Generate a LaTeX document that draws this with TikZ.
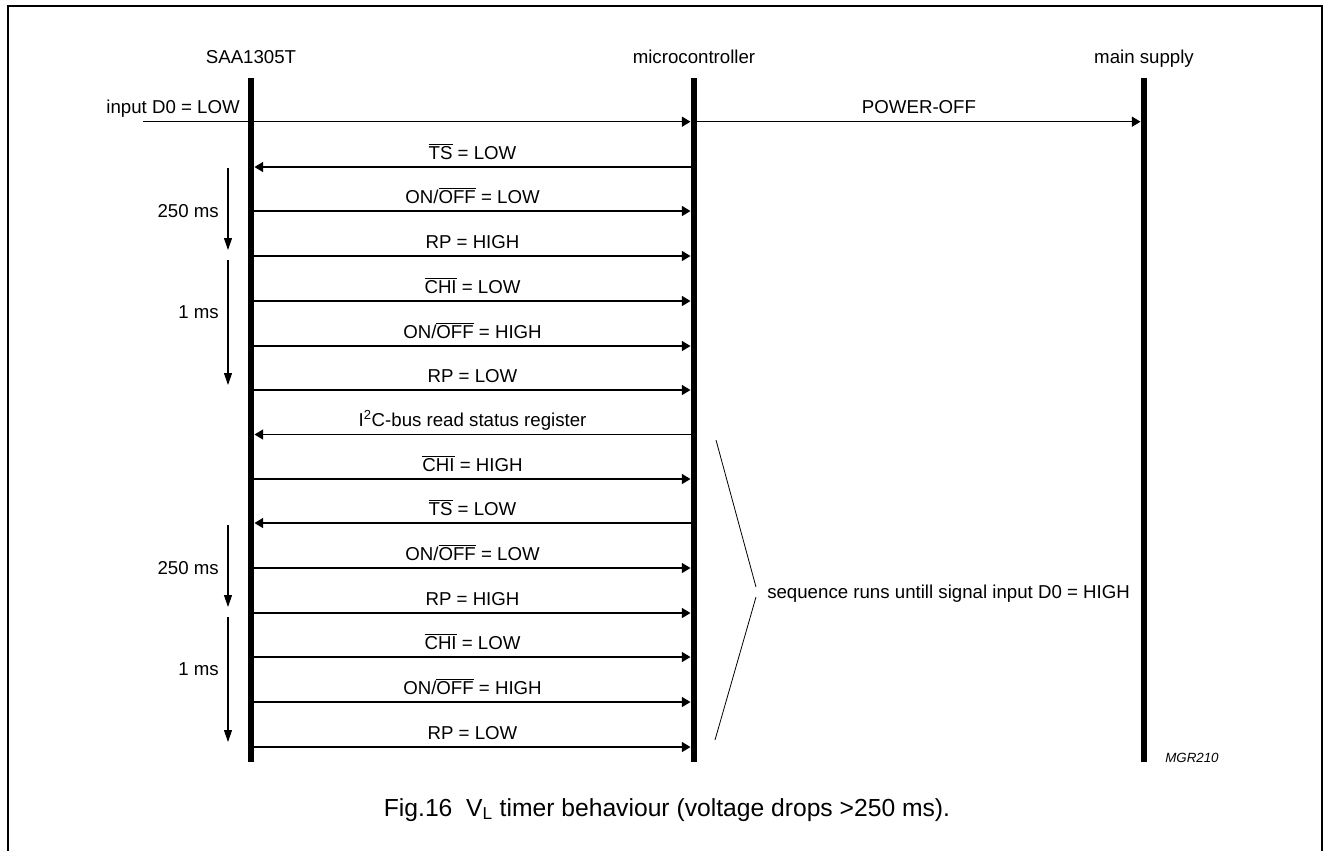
\documentclass[tikz,border=0pt]{standalone}
\usepackage{fontspec}
\setmainfont{Liberation Sans}
\usetikzlibrary{arrows.meta}

\newcommand{\ovl}[1]{\ensuremath{\overline{\mbox{#1}}}}
\newcommand{\lblfont}{\fontsize{14}{16}\selectfont}

\tikzset{
  lifeline/.style={line width=4.8pt},
  msg/.style={line width=1.05pt, -{Triangle[length=6.5pt,width=7.5pt]}, shorten >=2.6pt},
  lbl/.style={anchor=base, yshift=6pt, font=\lblfont, inner sep=0pt},
  hdr/.style={anchor=base, font=\lblfont, inner sep=0pt},
  tim/.style={line width=0.8pt, -{Triangle[length=9pt,width=6pt]}},
  timlbl/.style={anchor=base east, font=\lblfont, inner sep=0pt}
}

\begin{document}
\begin{tikzpicture}[x=0.75pt, y=-0.75pt]
\useasboundingbox (0,0) rectangle (1329,851);

%frame, open at the bottom
\draw[line width=1.2pt] (8,851)--(8,6)--(1322,6)--(1322,851);

%headers and lifelines
\node[hdr] (saa) at (251,63) {SAA1305T};
\node[hdr] (mc) at (694,63) {microcontroller};
\node[hdr] (sup) at (1144,63) {main supply};

\draw[lifeline] (251,78) -- (251,762);
\draw[lifeline] (694,78) -- (694,762);
\draw[lifeline] (1144,78) -- (1144,762);

%message points on the lifelines
\foreach \k/\y in {1/121.7,2/167,3/211,4/256,5/301,6/346,7/390,8/434.5,9/479,10/523,11/568,12/613,13/657,14/702,15/747}{
  \coordinate (s\k) at (251,\y);
  \coordinate (m\k) at (694,\y);
}
\coordinate (in) at (143,121.7);
\coordinate (p1) at (1144,121.7);

\node[timlbl] (d0) at (240,113) {input D0 = LOW};
\draw[msg] (in) -- (m1);
\draw[msg, shorten <=2.6pt] (m1) -- (p1) node[lbl, pos=0.5] {POWER-OFF};

\draw[msg] (m2) -- (s2) node[lbl, pos=0.5] {\ovl{TS} = LOW};
\draw[msg] (s3) -- (m3) node[lbl, pos=0.5] {ON/\ovl{OFF} = LOW};
\draw[msg] (s4) -- (m4) node[lbl, pos=0.5] {RP = HIGH};
\draw[msg] (s5) -- (m5) node[lbl, pos=0.5] {\ovl{CHI} = LOW};
\draw[msg] (s6) -- (m6) node[lbl, pos=0.5] {ON/\ovl{OFF} = HIGH};
\draw[msg] (s7) -- (m7) node[lbl, pos=0.5] {RP = LOW};
\draw[msg] (m8) -- (s8) node[lbl, pos=0.5] {I\textsuperscript{2}C-bus read status register};
\draw[msg] (s9) -- (m9) node[lbl, pos=0.5] {\ovl{CHI} = HIGH};
\draw[msg] (m10) -- (s10) node[lbl, pos=0.5] {\ovl{TS} = LOW};
\draw[msg] (s11) -- (m11) node[lbl, pos=0.5] {ON/\ovl{OFF} = LOW};
\draw[msg] (s12) -- (m12) node[lbl, pos=0.5] {RP = HIGH};
\draw[msg] (s13) -- (m13) node[lbl, pos=0.5] {\ovl{CHI} = LOW};
\draw[msg] (s14) -- (m14) node[lbl, pos=0.5] {ON/\ovl{OFF} = HIGH};
\draw[msg] (s15) -- (m15) node[lbl, pos=0.5] {RP = LOW};

%timing arrows
\coordinate (ta1) at (228,168);  \coordinate (tb1) at (228,250);
\coordinate (ta2) at (228,260);  \coordinate (tb2) at (228,385);
\coordinate (ta3) at (228,525);  \coordinate (tb3) at (228,607);
\coordinate (ta4) at (228,617);  \coordinate (tb4) at (228,742);
\draw[tim] (ta1) -- (tb1);
\draw[tim] (ta2) -- (tb2);
\draw[tim] (ta3) -- (tb3);
\draw[tim] (ta4) -- (tb4);
\node[timlbl] (t250a) at (219,217) {250 ms};
\node[timlbl] (t1a) at (219,318) {1 ms};
\node[timlbl] (t250b) at (219,574) {250 ms};
\node[timlbl] (t1b) at (219,675) {1 ms};

%repeat bracket
\coordinate (bu) at (716,440);
\coordinate (bm1) at (756,587);
\coordinate (bm2) at (756,597);
\coordinate (bl) at (715,740);
\draw[line width=0.6pt] (bu) -- (bm1);
\draw[line width=0.6pt] (bm2) -- (bl);
\node[anchor=base west, font=\lblfont, inner sep=0pt] (seq) at (767,598) {sequence runs untill signal input D0 = HIGH};

\node[anchor=base west, font=\fontsize{10}{12}\selectfont\itshape, inner sep=0pt] (code) at (1165,762) {MGR210};

%caption
\node[anchor=base, font=\fontsize{18.5}{22}\selectfont, inner sep=0pt] (cap) at (667,816) {Fig.16\ \ V\textsubscript{L} timer behaviour (voltage drops >250 ms).};

\end{tikzpicture}
\end{document}
